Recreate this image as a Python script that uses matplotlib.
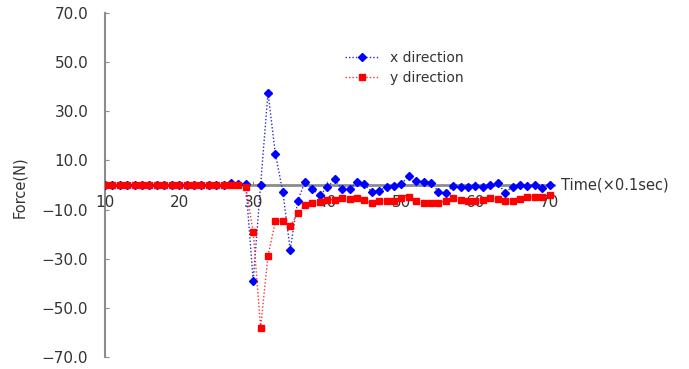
import matplotlib
matplotlib.use("Agg")
import matplotlib.pyplot as plt
from matplotlib.ticker import FixedLocator, FuncFormatter

plt.rcParams['font.family'] = ['DejaVu Sans']

time = list(range(10, 71))
x_direction = [0]*17 + [0.9, 0.5, 0.4,
               -39, 0, 37.6, 12.5, -2.7, -26.5, -6.5, 1.3, -1.8, -4.0,
               -1.0, 2.3, -1.8, -1.8, 1.3, 0.3, -2.7, -2.3, -0.7, -0.4,
               0.4, 3.7, 1.8, 1.4, 1.0, -2.7, -3.1, -0.4, -1.0, -1.0,
               -0.4, -0.7, 0.0, 0.7, -3.1, -0.7, 0.0, -0.4, 0.0, -1.4,
               0.0]
y_direction = [0]*19 + [-1.0,
               -19, -58, -28.8, -14.7, -14.7, -16.7, -11.5, -8.1, -7.2, -6.8,
               -6.1, -6.0, -5.4, -5.6, -5.4, -6.1, -7.5, -6.6, -6.4, -6.4,
               -5.4, -4.7, -6.4, -7.2, -7.2, -7.2, -6.4, -5.4, -6.1, -6.4,
               -6.4, -6.1, -5.4, -5.8, -6.6, -6.4, -5.8, -4.7, -4.7, -4.7,
               -4.1]
x_ticks = [10, 20, 30, 40, 50, 60, 70]
y_ticks = [70, 50, 30, 10, -10, -30, -50, -70]

fig = plt.figure(figsize=(6.89, 3.69), dpi=100)
ax = fig.add_axes([105/689, 12/369, 449/689, 344/369])

ax.plot(time, x_direction, linestyle=(0, (1, 1.5)), linewidth=1.0, color='#2a2ad0',
        marker='D', markersize=3.9, markerfacecolor='#0000ff', markeredgecolor='#0000ff',
        label='x direction')
ax.plot(time, y_direction, linestyle=(0, (1, 1.5)), linewidth=1.0, color='#ff3030',
        marker='s', markersize=4.3, markerfacecolor='#ff0000', markeredgecolor='#ff0000',
        label='y direction')

ax.set_xlim(10, 70.6)
ax.set_ylim(-70, 70)

for s in ['top', 'right']:
    ax.spines[s].set_visible(False)
ax.spines['bottom'].set_position(('data', 0))
ax.spines['bottom'].set_color('#8c8c8c')
ax.spines['bottom'].set_linewidth(2.0)
ax.spines['left'].set_color('#8c8c8c')
ax.spines['left'].set_linewidth(1.5)
ax.spines['left'].set_zorder(0)
ax.spines['bottom'].set_zorder(0)

ax.xaxis.set_major_locator(FixedLocator(x_ticks))
ax.yaxis.set_major_locator(FixedLocator(y_ticks))
ax.yaxis.set_major_formatter(FuncFormatter(lambda v, p: f"{v:.1f}".replace('-', '\u2212')))
ax.tick_params(axis='x', direction='in', length=3, color='#8c8c8c', pad=7,
               labelsize=11, labelcolor='#333333')
ax.tick_params(axis='y', direction='in', length=3, color='#8c8c8c', pad=12,
               labelsize=11, labelcolor='#333333')

ax.text(71.6, 0, 'Time(\u00d70.1sec)', ha='left', va='center', fontsize=10.5,
        color='#333333', clip_on=False)
fig.text(20/689, 1 - 187/369, 'Force(N)', rotation=90, ha='center', va='center',
         fontsize=10.5, color='#333333')

ax.legend(loc='upper left', bbox_to_anchor=(332/689, 1 - 38/369),
          bbox_transform=fig.transFigure, frameon=False, fontsize=10,
          handlelength=2.5, handletextpad=0.8, labelspacing=0.45,
          labelcolor='#333333')

fig.savefig('out.png', dpi=100)
